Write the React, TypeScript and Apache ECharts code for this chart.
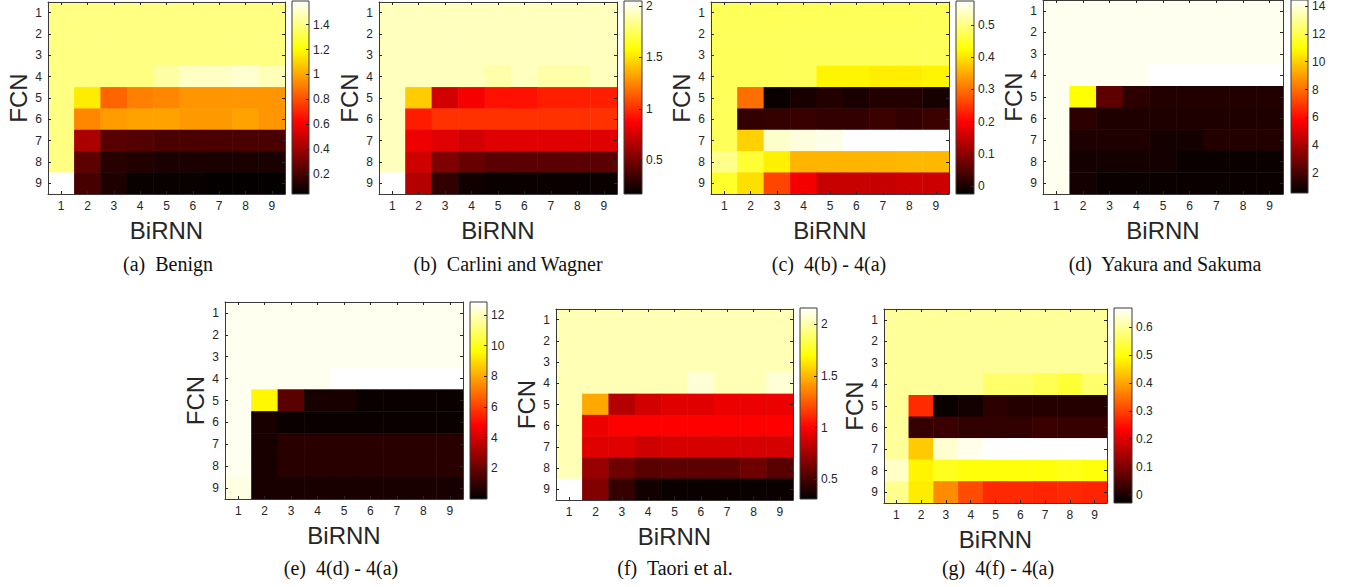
import React, { useEffect, useRef } from 'react';
import * as echarts from 'echarts';

const FCN_LABELS = ['1', '2', '3', '4', '5', '6', '7', '8', '9'];
const BIRNN_LABELS = ['1', '2', '3', '4', '5', '6', '7', '8', '9'];

// rows = FCN 1..9 (top to bottom), columns = BiRNN 1..9
const benign = [
  [1.40, 1.40, 1.40, 1.40, 1.40, 1.40, 1.40, 1.40, 1.40],
  [1.40, 1.40, 1.40, 1.40, 1.40, 1.40, 1.40, 1.40, 1.40],
  [1.40, 1.40, 1.40, 1.40, 1.40, 1.40, 1.40, 1.40, 1.40],
  [1.40, 1.40, 1.40, 1.40, 1.45, 1.50, 1.50, 1.52, 1.48],
  [1.40, 1.16, 0.85, 0.91, 0.93, 0.96, 0.96, 0.96, 0.96],
  [1.40, 0.93, 0.98, 0.99, 0.99, 0.97, 0.97, 0.99, 0.96],
  [1.40, 0.43, 0.24, 0.23, 0.21, 0.21, 0.21, 0.21, 0.21],
  [1.40, 0.25, 0.13, 0.12, 0.10, 0.10, 0.10, 0.10, 0.10],
  [1.59, 0.20, 0.11, 0.06, 0.06, 0.06, 0.05, 0.05, 0.05],
];
const carliniWagner = [
  [1.93, 1.93, 1.93, 1.93, 1.93, 1.93, 1.93, 1.93, 1.93],
  [1.93, 1.93, 1.93, 1.93, 1.93, 1.93, 1.93, 1.93, 1.93],
  [1.93, 1.93, 1.93, 1.93, 1.93, 1.93, 1.93, 1.93, 1.93],
  [1.93, 1.93, 1.93, 1.93, 1.89, 1.93, 1.89, 1.89, 1.93],
  [1.93, 1.44, 0.75, 0.85, 0.92, 0.92, 0.96, 0.96, 0.96],
  [1.93, 0.95, 1.01, 1.01, 1.01, 1.01, 1.01, 1.01, 1.01],
  [1.93, 0.83, 0.79, 0.75, 0.79, 0.79, 0.79, 0.79, 0.79],
  [1.93, 0.74, 0.52, 0.46, 0.42, 0.42, 0.42, 0.42, 0.42],
  [2.05, 0.67, 0.31, 0.22, 0.20, 0.20, 0.20, 0.20, 0.20],
];
const diffBA = [
  [0.478, 0.478, 0.478, 0.478, 0.478, 0.478, 0.478, 0.478, 0.478],
  [0.478, 0.478, 0.478, 0.478, 0.478, 0.478, 0.478, 0.478, 0.478],
  [0.478, 0.478, 0.478, 0.478, 0.478, 0.478, 0.478, 0.478, 0.478],
  [0.478, 0.478, 0.478, 0.478, 0.416, 0.416, 0.41, 0.41, 0.416],
  [0.478, 0.297, -0.016, -0.003, 0.005, -0.003, 0.005, 0.005, -0.006],
  [0.478, 0.019, 0.022, 0.025, 0.019, 0.019, 0.027, 0.019, 0.027],
  [0.478, 0.384, 0.543, 0.555, 0.562, 0.575, 0.575, 0.575, 0.575],
  [0.507, 0.455, 0.413, 0.36, 0.36, 0.36, 0.36, 0.362, 0.362],
  [0.45, 0.397, 0.261, 0.19, 0.151, 0.151, 0.15, 0.155, 0.155],
];
const yakuraSakuma = [
  [14.16, 14.16, 14.16, 14.16, 14.16, 14.16, 14.16, 14.16, 14.16],
  [14.16, 14.16, 14.16, 14.16, 14.16, 14.16, 14.16, 14.16, 14.16],
  [14.16, 14.16, 14.16, 14.16, 14.16, 14.16, 14.16, 14.16, 14.16],
  [14.16, 14.16, 14.16, 14.16, 14.36, 14.36, 14.36, 14.36, 14.36],
  [14.16, 10.92, 2.5, 1.48, 1.26, 1.26, 1.26, 1.26, 1.26],
  [14.16, 1.48, 1.18, 1.18, 1.18, 1.18, 1.18, 1.18, 1.18],
  [14.16, 1.18, 1.18, 1.18, 1.0, 1.0, 1.26, 1.26, 1.26],
  [14.16, 1.0, 1.0, 1.0, 1.0, 0.8, 0.8, 0.8, 0.8],
  [14.16, 1.0, 0.8, 0.8, 0.8, 0.8, 0.8, 0.8, 0.8],
];
const diffDA = [
  [12.66, 12.66, 12.66, 12.66, 12.66, 12.66, 12.66, 12.66, 12.66],
  [12.66, 12.66, 12.66, 12.66, 12.66, 12.66, 12.66, 12.66, 12.66],
  [12.66, 12.66, 12.66, 12.66, 12.66, 12.66, 12.66, 12.66, 12.66],
  [12.66, 12.66, 12.66, 12.66, 12.85, 12.85, 12.85, 12.85, 12.85],
  [12.66, 9.5, 1.7, 0.47, 0.47, 0.2, 0.2, 0.2, 0.2],
  [12.66, 0.47, 0.2, 0.2, 0.2, 0.2, 0.2, 0.2, 0.2],
  [12.66, 0.47, 0.76, 0.76, 0.76, 0.76, 0.76, 0.76, 0.76],
  [12.66, 0.47, 0.76, 0.76, 0.76, 0.76, 0.76, 0.76, 0.76],
  [12.47, 0.47, 0.47, 0.47, 0.47, 0.47, 0.47, 0.47, 0.47],
];
const taori = [
  [2.02, 2.02, 2.02, 2.02, 2.02, 2.02, 2.02, 2.02, 2.02],
  [2.02, 2.02, 2.02, 2.02, 2.02, 2.02, 2.02, 2.02, 2.02],
  [2.02, 2.02, 2.02, 2.02, 2.02, 2.02, 2.02, 2.02, 2.02],
  [2.02, 2.02, 2.02, 2.02, 2.02, 2.08, 2.02, 2.02, 2.08],
  [2.02, 1.46, 0.80, 0.88, 0.92, 0.92, 0.95, 0.95, 0.95],
  [2.02, 0.95, 1.0, 1.0, 1.0, 1.0, 1.0, 1.0, 1.0],
  [2.02, 0.92, 0.92, 0.87, 0.89, 0.89, 0.89, 0.89, 0.89],
  [2.02, 0.72, 0.61, 0.55, 0.56, 0.56, 0.56, 0.61, 0.55],
  [2.155, 0.66, 0.46, 0.36, 0.34, 0.34, 0.34, 0.34, 0.34],
];
const diffFA = [
  [0.598, 0.598, 0.598, 0.598, 0.598, 0.598, 0.598, 0.598, 0.598],
  [0.598, 0.598, 0.598, 0.598, 0.598, 0.598, 0.598, 0.598, 0.598],
  [0.598, 0.598, 0.598, 0.598, 0.598, 0.598, 0.598, 0.598, 0.598],
  [0.598, 0.598, 0.598, 0.598, 0.565, 0.565, 0.55, 0.53, 0.565],
  [0.598, 0.275, -0.02, -0.01, 0.016, 0.008, 0.008, 0.008, 0.008],
  [0.598, 0.025, 0.027, 0.02, 0.02, 0.02, 0.03, 0.025, 0.025],
  [0.598, 0.44, 0.635, 0.655, 0.668, 0.668, 0.668, 0.668, 0.668],
  [0.63, 0.483, 0.514, 0.50, 0.50, 0.50, 0.50, 0.51, 0.50],
  [0.59, 0.475, 0.375, 0.31, 0.274, 0.274, 0.27, 0.274, 0.268],
];

const matrices = [benign, carliniWagner, diffBA, yakuraSakuma, diffDA, taori, diffFA];
const colorMin = [0.04, 0.17, -0.025, 0.57, 0, 0.31, -0.03];
const colorMax = [1.59, 2.05, 0.575, 14.36, 12.85, 2.155, 0.668];
const colorTicks = [
  [0.2, 0.4, 0.6, 0.8, 1, 1.2, 1.4],
  [0.5, 1, 1.5, 2],
  [0, 0.1, 0.2, 0.3, 0.4, 0.5],
  [2, 4, 6, 8, 10, 12, 14],
  [2, 4, 6, 8, 10, 12],
  [0.5, 1, 1.5, 2],
  [0, 0.1, 0.2, 0.3, 0.4, 0.5, 0.6],
];
const captions = [
  '(a)  Benign',
  '(b)  Carlini and Wagner',
  '(c)  4(b) - 4(a)',
  '(d)  Yakura and Sakuma',
  '(e)  4(d) - 4(a)',
  '(f)  Taori et al.',
  '(g)  4(f) - 4(a)',
];

// layout: plot [left, top, width, height], colorbar [left, top, width, height], caption [x, y]
const LAYOUT = [
  { plot: [48, 2, 237, 192], bar: [292, 1, 17, 193], cap: [168, 264] },
  { plot: [379, 2, 238, 192], bar: [624, 1, 18, 193], cap: [508, 264] },
  { plot: [711, 2, 238, 192], bar: [956, 1, 18, 193], cap: [829, 264] },
  { plot: [1043, -1, 240, 195], bar: [1291, 0, 17, 193], cap: [1165, 264] },
  { plot: [225, 302, 238, 197], bar: [470, 302, 17, 197], cap: [341, 568] },
  { plot: [556, 309, 237, 191], bar: [800, 308, 17, 191], cap: [675, 568] },
  { plot: [884, 309, 223, 194], bar: [1114, 308, 18, 195], cap: [998, 568] },
];

const HOT = ['#000000', '#550000', '#aa0000', '#ff0000', '#ff5500', '#ffaa00', '#ffff00', '#ffff80', '#ffffff'];
const TEXT = '#262626';
const LINE = '#3a3a3a';
const SANS = '"Liberation Sans", Arial, Helvetica, sans-serif';
const SERIF = '"Liberation Serif", "Times New Roman", serif';

function buildOption() {
  const grid: any[] = [];
  const xAxis: any[] = [];
  const yAxis: any[] = [];
  const series: any[] = [];
  const visualMap: any[] = [];
  const graphic: any[] = [];

  matrices.forEach((m, p) => {
    const L = LAYOUT[p];
    const [pl, pt, pw, ph] = L.plot;
    const [bl, bt, bw, bh] = L.bar;
    grid.push({ left: pl, top: pt, width: pw, height: ph, containLabel: false });
    grid.push({ left: bl, top: bt, width: bw, height: bh, containLabel: false });
    const g = 2 * p;
    const tick = { show: true, inside: true, length: 3, alignWithLabel: true, lineStyle: { color: TEXT, width: 1 } };
    const axisLine = { show: true, lineStyle: { color: LINE, width: 1 } };
    // bottom x
    xAxis.push({
      type: 'category', gridIndex: g, data: BIRNN_LABELS, position: 'bottom',
      axisLine, axisTick: tick,
      axisLabel: { margin: 6, fontSize: 12, color: TEXT, fontFamily: SANS },
      name: 'BiRNN', nameLocation: 'middle', nameGap: 24,
      nameTextStyle: { fontSize: 24, color: TEXT, fontFamily: SANS },
      splitLine: { show: false }, z: 5,
    });
    // top x
    xAxis.push({
      type: 'category', gridIndex: g, data: BIRNN_LABELS, position: 'top',
      axisLine, axisTick: tick, axisLabel: { show: false }, splitLine: { show: false }, z: 5,
    });
    // colorbar x
    xAxis.push({ type: 'category', gridIndex: g + 1, data: [''], show: false });
    // left y
    yAxis.push({
      type: 'category', gridIndex: g, data: FCN_LABELS, inverse: true, position: 'left',
      axisLine, axisTick: tick,
      axisLabel: { margin: 6, fontSize: 12, color: TEXT, fontFamily: SANS },
      name: 'FCN', nameLocation: 'middle', nameGap: 18,
      nameTextStyle: { fontSize: 24, color: TEXT, fontFamily: SANS },
      splitLine: { show: false }, z: 5,
    });
    // right y
    yAxis.push({
      type: 'category', gridIndex: g, data: FCN_LABELS, inverse: true, position: 'right',
      axisLine, axisTick: tick, axisLabel: { show: false }, splitLine: { show: false }, z: 5,
    });
    // colorbar y
    yAxis.push({
      type: 'value', gridIndex: g + 1, position: 'right', min: colorMin[p], max: colorMax[p],
      axisLine: { show: false },
      axisTick: { show: true, inside: true, length: 3, customValues: colorTicks[p], lineStyle: { color: TEXT } },
      axisLabel: {
        show: true, margin: 4, fontSize: 12, color: TEXT, fontFamily: SANS,
        customValues: colorTicks[p],
        formatter: (v: number) => String(Math.round(v * 100) / 100),
      },
      splitLine: { show: false }, z: 10,
    });

    const data: any[] = [];
    m.forEach((row, r) => row.forEach((v, c) => data.push([c, r, v])));
    series.push({
      type: 'heatmap', xAxisIndex: 3 * p, yAxisIndex: 3 * p, data,
      silent: true, itemStyle: { borderWidth: 0 }, emphasis: { disabled: true },
    });
    visualMap.push({
      type: 'continuous', show: false, seriesIndex: p, dimension: 2,
      min: colorMin[p], max: colorMax[p], inRange: { color: HOT },
    });

    graphic.push({
      type: 'rect', z: 1, silent: true,
      shape: { x: bl, y: bt, width: bw, height: bh },
      style: {
        fill: {
          type: 'linear', x: 0, y: 1, x2: 0, y2: 0,
          colorStops: HOT.map((c, i) => ({ offset: i / (HOT.length - 1), color: c })),
        },
        stroke: LINE, lineWidth: 1,
      },
    });
    graphic.push({
      type: 'text', z: 5, silent: true,
      x: L.cap[0], y: L.cap[1],
      style: {
        text: captions[p], fontSize: 20, fontFamily: SERIF, fill: '#111',
        align: 'center', verticalAlign: 'middle',
      },
    });
  });

  return {
    animation: false,
    backgroundColor: '#ffffff',
    grid, xAxis, yAxis, series, visualMap, graphic,
  };
}

export default function App() {
  const ref = useRef<HTMLDivElement>(null);
  useEffect(() => {
    if (!ref.current) return;
    const chart = echarts.init(ref.current, undefined, { renderer: 'svg' });
    chart.setOption(buildOption() as any);
    return () => chart.dispose();
  }, []);
  return (
    <div
      ref={ref}
      style={{ position: 'fixed', left: 0, top: 0, width: 1346, height: 587, background: '#fff' }}
    />
  );
}
